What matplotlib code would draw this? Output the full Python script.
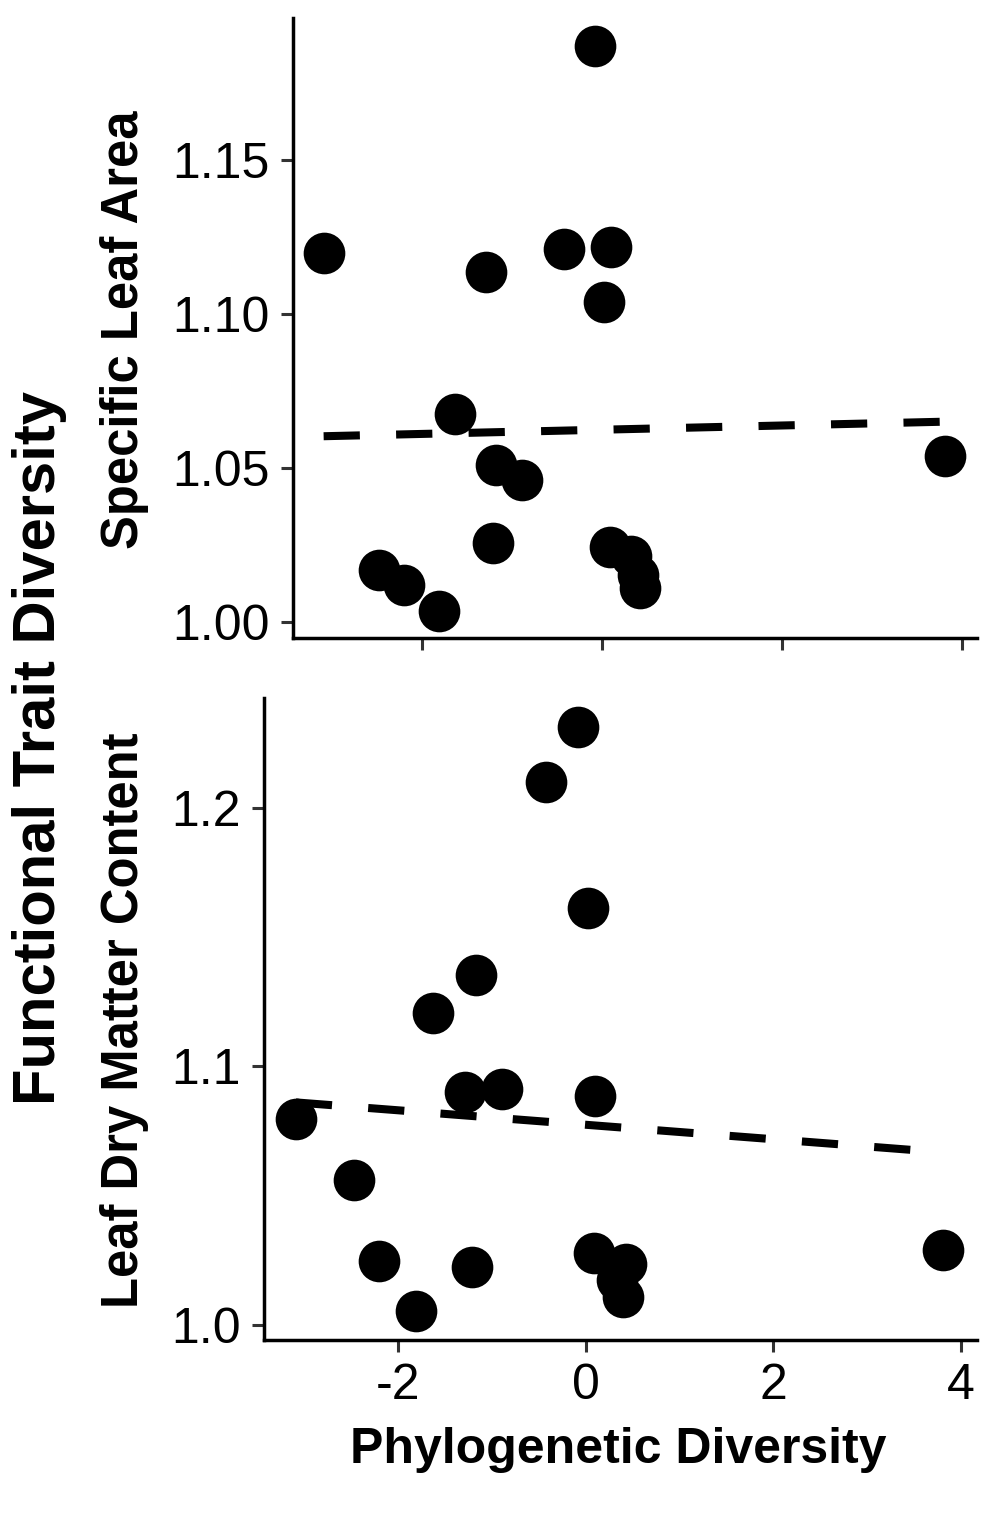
import numpy as np
import matplotlib.pyplot as plt

plt.rcParams['font.family'] = ['Liberation Sans', 'DejaVu Sans']
plt.rcParams['axes.unicode_minus'] = False

# phylogenetic diversity (shared x for both panels)
pd_vals = [-3.09, -2.47, -2.20, -1.81, -1.63, -1.29, -1.21, -1.17, -0.89,
           -0.42, -0.08, 0.02, 0.09, 0.10, 0.33, 0.40, 0.43, 3.81]
sla_vals = [1.1198, 1.0169, 1.0121, 1.0036, 1.0676, 1.1136, 1.0255, 1.0510, 1.0461,
            1.1209, 1.1870, 1.1039, 1.0245, 1.1216, 1.0214, 1.0153, 1.0110, 1.0539]
ldmc_vals = [1.0795, 1.0560, 1.0247, 1.0054, 1.1208, 1.0900, 1.0224, 1.1355, 1.0911,
             1.2102, 1.2313, 1.1612, 1.0278, 1.0884, 1.0174, 1.0108, 1.0236, 1.0290]

sla_ticks = [1.00, 1.05, 1.10, 1.15]
ldmc_ticks = [1.0, 1.1, 1.2]
x_ticks = [-2, 0, 2, 4]

fig = plt.figure(figsize=(9.95, 15.25), dpi=100)
ax1 = fig.add_axes([0.2945, 0.5816, 0.6874, 0.4066])
ax2 = fig.add_axes([0.2653, 0.1213, 0.7166, 0.4210])


def panel(ax, y, yticks, fmt, ylim):
    x = np.array(pd_vals)
    y = np.array(y)
    ax.plot(x, y, 'o', color='black', markersize=30, markeredgewidth=0, zorder=3)
    # linear fit, dashed
    slope, icpt = np.polyfit(x, y, 1)
    xs = np.array([x.min(), x.max()])
    ax.plot(xs, icpt + slope * xs, color='black', lw=5.8,
            ls=(0, (4.5, 4.5)), dash_capstyle='butt', zorder=2)
    ax.set_xlim(-3.43, 4.17)
    ax.set_ylim(*ylim)
    ax.set_xticks(x_ticks)
    ax.set_yticks(yticks)
    ax.set_yticklabels([fmt.format(t) for t in yticks])
    for s in ['top', 'right']:
        ax.spines[s].set_visible(False)
    for s in ['left', 'bottom']:
        ax.spines[s].set_linewidth(2.5)
        ax.spines[s].set_color('black')
    ax.tick_params(length=8.5, width=2.2, color='#333333', labelsize=36,
                   labelcolor='black', pad=8)


panel(ax1, sla_vals, sla_ticks, '{:.2f}', (0.9948, 1.196))
ax1.tick_params(axis='x', labelbottom=False)
panel(ax2, ldmc_vals, ldmc_ticks, '{:.1f}', (0.9942, 1.2425))

fig.text(0.040, 0.5095, 'Functional Trait Diversity', rotation=90, fontsize=43,
         fontweight='bold', ha='center', va='center')
fig.text(0.1256, 0.7836, 'Specific Leaf Area', rotation=90, fontsize=36.5,
         fontweight='bold', ha='center', va='center')
fig.text(0.1256, 0.3311, 'Leaf Dry Matter Content', rotation=90, fontsize=36.5,
         fontweight='bold', ha='center', va='center')
fig.text(0.621, 0.0492, 'Phylogenetic Diversity', fontsize=36,
         fontweight='bold', ha='center', va='center')

fig.savefig('out.png', dpi=100)
